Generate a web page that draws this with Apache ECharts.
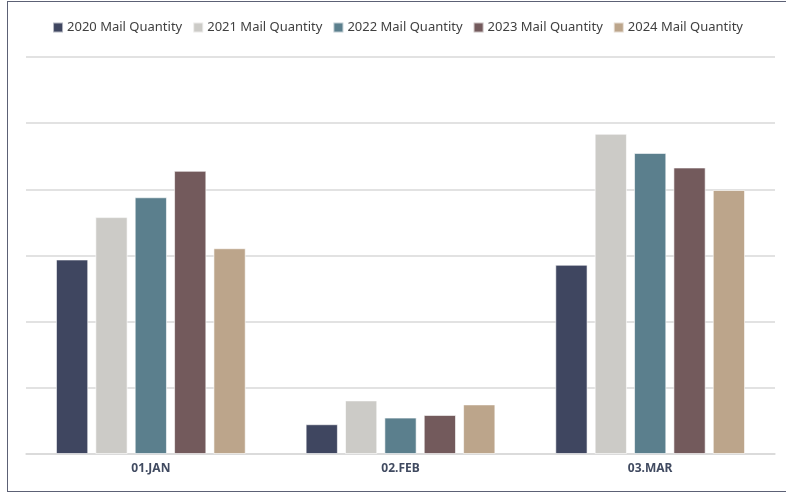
<!DOCTYPE html>
<html>
<head>
<meta charset="utf-8">
<script src="https://cdn.jsdelivr.net/npm/echarts@6/dist/echarts.min.js"></script>
<style>
  html, body { margin: 0; padding: 0; background: #fff; overflow: hidden; }
  #main { position: absolute; left: 7px; top: 1px; width: 779px; height: 489px;
          border-left: 1.5px solid #5c6175; border-top: 1.5px solid #5c6175; border-bottom: 1.5px solid #5c6175; }
</style>
</head>
<body>
<div id="main"></div>
<script>
// 类目
var months = ['01.JAN', '02.FEB', '03.MAR'];
// 每年的邮件数量
var mail2020 = [294, 45, 286];
var mail2021 = [358, 81, 484];
var mail2022 = [388, 55, 455];
var mail2023 = [428, 59, 433];
var mail2024 = [311, 75, 399];
var seriesNames = ['2020 Mail Quantity', '2021 Mail Quantity', '2022 Mail Quantity', '2023 Mail Quantity', '2024 Mail Quantity'];
var colors = ['#3f4660', '#cccbc7', '#5b7f8d', '#735a5c', '#bca58b'];

var myChart = echarts.init(document.getElementById('main'));
var allData = [mail2020, mail2021, mail2022, mail2023, mail2024];

var option = {
  animation: false,
  color: colors,
  legend: {
    top: 14,
    left: 'center',
    itemWidth: 10,
    itemHeight: 10,
    itemGap: 10,
    icon: 'rect',
    textStyle: { color: '#404040', fontSize: 13, fontFamily: 'Noto Sans', padding: [0, 0, 0, -1] },
    data: seriesNames
  },
  grid: {
    left: 18,
    right: 12,
    top: 55,
    bottom: 37
  },
  xAxis: {
    type: 'category',
    data: months,
    axisLine: { lineStyle: { color: '#d9d9d9', width: 1.5 } },
    axisTick: { show: false },
    axisLabel: { color: '#404a60', fontWeight: 'bold', fontSize: 12, fontFamily: 'Noto Sans', margin: 9 }
  },
  yAxis: {
    type: 'value',
    min: 0,
    max: 600,
    interval: 100,
    axisLabel: { show: false },
    axisLine: { show: false },
    splitLine: { lineStyle: { color: '#d9d9d9', width: 1.5 } }
  },
  series: allData.map(function (item, i) {
    return {
      name: seriesNames[i],
      type: 'bar',
      data: item,
      barGap: '22%',
      barCategoryGap: '24%',
      itemStyle: { borderColor: 'rgba(255,255,255,0.6)', borderWidth: 1 }
    };
  })
};
myChart.setOption(option);
</script>
</body>
</html>
